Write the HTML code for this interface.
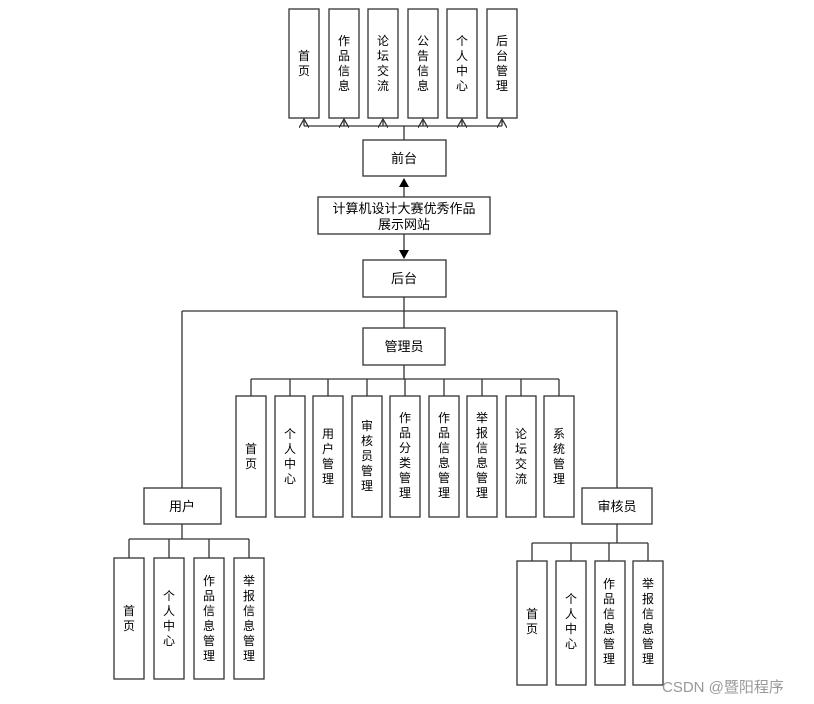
<!DOCTYPE html>
<html><head><meta charset="utf-8"><style>
html,body{margin:0;padding:0;background:#fff;}
svg{display:block;font-family:"Liberation Sans","Noto Sans CJK SC",sans-serif;}
</style></head><body>
<svg width="814" height="704" viewBox="0 0 814 704" xmlns="http://www.w3.org/2000/svg">
<defs><marker id="ah" markerWidth="10" markerHeight="10" refX="5" refY="5" orient="auto"><path d="M0,0 L10,5 L0,10 z" fill="#000"/></marker>
<marker id="oa" markerWidth="8" markerHeight="8" refX="7" refY="4" orient="auto"><path d="M0,0 L7,4 L0,8" fill="none" stroke="#333" stroke-width="1"/></marker></defs>
<g fill="none" stroke="#333" stroke-width="1.3">
<!-- top -->
<line x1="404" y1="140" x2="404" y2="126"/>
<line x1="304" y1="126" x2="502" y2="126"/>
<line x1="304" y1="126" x2="304" y2="119" marker-end="url(#oa)"/>
<line x1="344" y1="126" x2="344" y2="119" marker-end="url(#oa)"/>
<line x1="383" y1="126" x2="383" y2="119" marker-end="url(#oa)"/>
<line x1="423" y1="126" x2="423" y2="119" marker-end="url(#oa)"/>
<line x1="462" y1="126" x2="462" y2="119" marker-end="url(#oa)"/>
<line x1="502" y1="126" x2="502" y2="119" marker-end="url(#oa)"/>
<rect x="289" y="9" width="30" height="109"/>
<rect x="329" y="9" width="30" height="109"/>
<rect x="368" y="9" width="30" height="109"/>
<rect x="408" y="9" width="30" height="109"/>
<rect x="447" y="9" width="30" height="109"/>
<rect x="487" y="9" width="30" height="109"/>
<rect x="363" y="140" width="83" height="36"/>
<rect x="318" y="197" width="172" height="37"/>
<rect x="363" y="260" width="83" height="37"/>
<line x1="404" y1="197" x2="404" y2="184"/>
<line x1="404" y1="234" x2="404" y2="252"/>
<!-- backend -->
<line x1="404" y1="297" x2="404" y2="328"/>
<line x1="182" y1="311" x2="617" y2="311"/>
<line x1="182" y1="311" x2="182" y2="488"/>
<line x1="617" y1="311" x2="617" y2="488"/>
<rect x="363" y="328" width="82" height="37"/>
<line x1="404" y1="365" x2="404" y2="379"/>
<line x1="251" y1="379" x2="559" y2="379"/>
<line x1="251" y1="379" x2="251" y2="396"/><line x1="290" y1="379" x2="290" y2="396"/><line x1="328" y1="379" x2="328" y2="396"/><line x1="367" y1="379" x2="367" y2="396"/><line x1="405" y1="379" x2="405" y2="396"/><line x1="444" y1="379" x2="444" y2="396"/><line x1="482" y1="379" x2="482" y2="396"/><line x1="521" y1="379" x2="521" y2="396"/><line x1="559" y1="379" x2="559" y2="396"/>
<rect x="236" y="396" width="30" height="121"/><rect x="275" y="396" width="30" height="121"/><rect x="313" y="396" width="30" height="121"/><rect x="352" y="396" width="30" height="121"/><rect x="390" y="396" width="30" height="121"/><rect x="429" y="396" width="30" height="121"/><rect x="467" y="396" width="30" height="121"/><rect x="506" y="396" width="30" height="121"/><rect x="544" y="396" width="30" height="121"/>
<!-- user -->
<rect x="144" y="488" width="77" height="36"/>
<line x1="182" y1="524" x2="182" y2="539"/>
<line x1="129" y1="539" x2="249" y2="539"/>
<line x1="129" y1="539" x2="129" y2="558"/><line x1="169" y1="539" x2="169" y2="558"/><line x1="209" y1="539" x2="209" y2="558"/><line x1="249" y1="539" x2="249" y2="558"/>
<rect x="114" y="558" width="30" height="121"/><rect x="154" y="558" width="30" height="121"/><rect x="194" y="558" width="30" height="121"/><rect x="234" y="558" width="30" height="121"/>
<!-- reviewer -->
<rect x="582" y="488" width="70" height="36"/>
<line x1="617" y1="524" x2="617" y2="543"/>
<line x1="532" y1="543" x2="648" y2="543"/>
<line x1="532" y1="543" x2="532" y2="561"/><line x1="571" y1="543" x2="571" y2="561"/><line x1="609" y1="543" x2="609" y2="561"/><line x1="648" y1="543" x2="648" y2="561"/>
<rect x="517" y="561" width="30" height="124"/><rect x="556" y="561" width="30" height="124"/><rect x="595" y="561" width="30" height="124"/><rect x="633" y="561" width="30" height="124"/>
</g>
<path d="M404,178 l-5,9 h10 z" fill="#000"/>
<path d="M404,259 l-5,-9 h10 z" fill="#000"/>
<g font-size="12" fill="#000" text-anchor="middle">
<text x="304"><tspan x="304" y="60">首</tspan><tspan x="304" y="75">页</tspan></text>
<text><tspan x="344" y="45">作</tspan><tspan x="344" y="60">品</tspan><tspan x="344" y="75">信</tspan><tspan x="344" y="90">息</tspan></text>
<text><tspan x="383" y="45">论</tspan><tspan x="383" y="60">坛</tspan><tspan x="383" y="75">交</tspan><tspan x="383" y="90">流</tspan></text>
<text><tspan x="423" y="45">公</tspan><tspan x="423" y="60">告</tspan><tspan x="423" y="75">信</tspan><tspan x="423" y="90">息</tspan></text>
<text><tspan x="462" y="45">个</tspan><tspan x="462" y="60">人</tspan><tspan x="462" y="75">中</tspan><tspan x="462" y="90">心</tspan></text>
<text><tspan x="502" y="45">后</tspan><tspan x="502" y="60">台</tspan><tspan x="502" y="75">管</tspan><tspan x="502" y="90">理</tspan></text>
<text x="404" y="163" font-size="13">前台</text>
<text x="404" y="213" font-size="13">计算机设计大赛优秀作品</text>
<text x="404" y="229" font-size="13">展示网站</text>
<text x="404" y="283" font-size="13">后台</text>
<text x="404" y="351" font-size="13">管理员</text>
<text x="182" y="511" font-size="13">用户</text>
<text x="617" y="511" font-size="13">审核员</text>
<text><tspan x="251" y="453">首</tspan><tspan x="251" y="468">页</tspan></text>
<text><tspan x="290" y="438">个</tspan><tspan x="290" y="453">人</tspan><tspan x="290" y="468">中</tspan><tspan x="290" y="483">心</tspan></text>
<text><tspan x="328" y="438">用</tspan><tspan x="328" y="453">户</tspan><tspan x="328" y="468">管</tspan><tspan x="328" y="483">理</tspan></text>
<text><tspan x="367" y="430">审</tspan><tspan x="367" y="445">核</tspan><tspan x="367" y="460">员</tspan><tspan x="367" y="475">管</tspan><tspan x="367" y="490">理</tspan></text>
<text><tspan x="405" y="422">作</tspan><tspan x="405" y="437">品</tspan><tspan x="405" y="452">分</tspan><tspan x="405" y="467">类</tspan><tspan x="405" y="482">管</tspan><tspan x="405" y="497">理</tspan></text>
<text><tspan x="444" y="422">作</tspan><tspan x="444" y="437">品</tspan><tspan x="444" y="452">信</tspan><tspan x="444" y="467">息</tspan><tspan x="444" y="482">管</tspan><tspan x="444" y="497">理</tspan></text>
<text><tspan x="482" y="422">举</tspan><tspan x="482" y="437">报</tspan><tspan x="482" y="452">信</tspan><tspan x="482" y="467">息</tspan><tspan x="482" y="482">管</tspan><tspan x="482" y="497">理</tspan></text>
<text><tspan x="521" y="438">论</tspan><tspan x="521" y="453">坛</tspan><tspan x="521" y="468">交</tspan><tspan x="521" y="483">流</tspan></text>
<text><tspan x="559" y="438">系</tspan><tspan x="559" y="453">统</tspan><tspan x="559" y="468">管</tspan><tspan x="559" y="483">理</tspan></text>
<text><tspan x="129" y="615">首</tspan><tspan x="129" y="630">页</tspan></text>
<text><tspan x="169" y="600">个</tspan><tspan x="169" y="615">人</tspan><tspan x="169" y="630">中</tspan><tspan x="169" y="645">心</tspan></text>
<text><tspan x="209" y="585">作</tspan><tspan x="209" y="600">品</tspan><tspan x="209" y="615">信</tspan><tspan x="209" y="630">息</tspan><tspan x="209" y="645">管</tspan><tspan x="209" y="660">理</tspan></text>
<text><tspan x="249" y="585">举</tspan><tspan x="249" y="600">报</tspan><tspan x="249" y="615">信</tspan><tspan x="249" y="630">息</tspan><tspan x="249" y="645">管</tspan><tspan x="249" y="660">理</tspan></text>
<text><tspan x="532" y="618">首</tspan><tspan x="532" y="633">页</tspan></text>
<text><tspan x="571" y="603">个</tspan><tspan x="571" y="618">人</tspan><tspan x="571" y="633">中</tspan><tspan x="571" y="648">心</tspan></text>
<text><tspan x="609" y="588">作</tspan><tspan x="609" y="603">品</tspan><tspan x="609" y="618">信</tspan><tspan x="609" y="633">息</tspan><tspan x="609" y="648">管</tspan><tspan x="609" y="663">理</tspan></text>
<text><tspan x="648" y="588">举</tspan><tspan x="648" y="603">报</tspan><tspan x="648" y="618">信</tspan><tspan x="648" y="633">息</tspan><tspan x="648" y="648">管</tspan><tspan x="648" y="663">理</tspan></text>
</g>
<text x="662" y="692" font-size="15" fill="#999">CSDN @暨阳程序</text>
</svg>
</body></html>
